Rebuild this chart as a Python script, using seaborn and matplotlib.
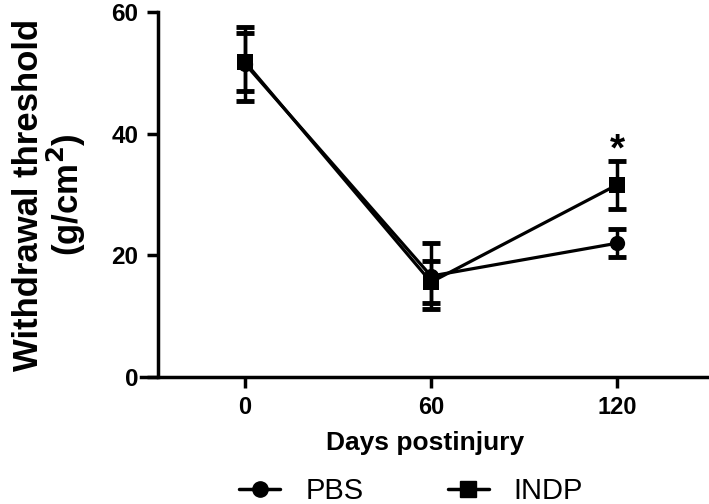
import numpy as np
import pandas as pd
import seaborn as sns
import matplotlib.pyplot as plt
from matplotlib.lines import Line2D

days = [0, 60, 120]
pbs_mean = [51.5, 16.6, 22.0]
pbs_sem = [6.1, 5.5, 2.3]
indp_mean = [51.8, 15.6, 31.6]
indp_sem = [4.8, 3.5, 3.9]
yticks = [0, 20, 40, 60]

df = pd.DataFrame({
    'day': days * 2,
    'threshold': pbs_mean + indp_mean,
    'group': ['PBS'] * 3 + ['INDP'] * 3,
})

sns.set_style('ticks')
plt.rcParams['font.family'] = ['Liberation Sans', 'DejaVu Sans']
plt.rcParams['text.color'] = 'black'
plt.rcParams['axes.labelcolor'] = 'black'
plt.rcParams['xtick.color'] = 'black'
plt.rcParams['ytick.color'] = 'black'
plt.rcParams['axes.edgecolor'] = 'black'

fig = plt.figure(figsize=(7.09, 5.04), dpi=100)
ax = fig.add_axes([0.199, 0.252, 0.8, 0.724])

# spines first: set_position resets the ticks
sns.despine(ax=ax)
ax.spines['left'].set_position(('outward', -12))
ax.spines['left'].set_linewidth(2.5)
ax.spines['bottom'].set_linewidth(2.5)

# error bars first, then lines/markers on top
ax.errorbar(days, pbs_mean, yerr=pbs_sem, fmt='none', ecolor='black',
            elinewidth=2.5, capsize=6.5, capthick=3.5)
ax.errorbar(days, indp_mean, yerr=indp_sem, fmt='none', ecolor='black',
            elinewidth=2.5, capsize=6.5, capthick=3.5)

sns.lineplot(data=df, x='day', y='threshold', hue='group', style='group',
             markers={'PBS': 'o', 'INDP': 's'}, dashes=False,
             palette={'PBS': 'black', 'INDP': 'black'},
             linewidth=2.3, markersize=11, markeredgewidth=0, ax=ax, legend=False)

ax.text(120, 37.3, '*', ha='center', va='center', fontsize=28, fontweight='bold')

ax.set_xlim(-33.5, 149.4)
ax.set_ylim(0, 60)
ax.set_xticks(days, labels=[str(d) for d in days], fontweight='bold', fontsize=17)
ax.set_yticks(yticks, labels=[str(t) for t in yticks], fontweight='bold', fontsize=17.5)
ax.tick_params(axis='both', width=2.5, length=8)
ax.tick_params(axis='x', pad=6)
ax.tick_params(axis='y', pad=6)

ax.set_xlabel('Days postinjury', fontsize=19, fontweight='bold', labelpad=8)
ax.set_ylabel('Withdrawal threshold\n(g/cm$^\\mathbf{2}$)', fontsize=25,
              fontweight='bold', labelpad=17, linespacing=1.0)

handles = [Line2D([], [], color='black', lw=2.5, marker='o', markersize=11),
           Line2D([], [], color='black', lw=2.5, marker='s', markersize=11)]
fig.legend(handles, ['PBS', 'INDP'], loc='center', bbox_to_anchor=(0.58, 0.025),
           ncol=2, frameon=False, fontsize=21, handlelength=1.4,
           columnspacing=2.9, handletextpad=0.86)

fig.savefig('out.png', dpi=100)
